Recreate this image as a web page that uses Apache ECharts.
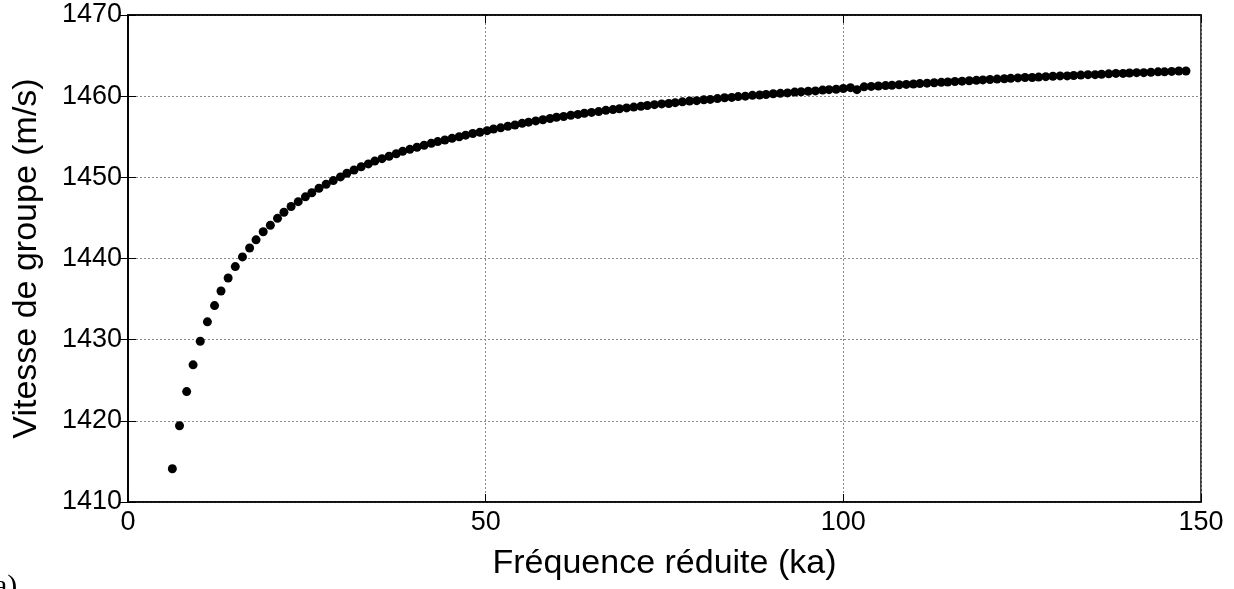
<!DOCTYPE html>
<html>
<head>
<meta charset="utf-8">
<title>Vitesse de groupe</title>
<script src="https://cdn.jsdelivr.net/npm/echarts@6/dist/echarts.min.js"></script>
<style>
html, body { margin: 0; padding: 0; background: #fff; }
#chart { width: 1234px; height: 589px; }
</style>
</head>
<body>
<div id="chart"></div>
<script>
// fréquence réduite (ka)
var kaValues = [
	6.2, 7.2, 8.2, 9.1, 10.1, 11.1, 12.1, 13.0, 14.0, 15.0,
	16.0, 17.0, 17.9, 18.9, 19.9, 20.9, 21.8, 22.8, 23.8, 24.8,
	25.7, 26.7, 27.7, 28.7, 29.7, 30.6, 31.6, 32.6, 33.6, 34.5,
	35.5, 36.5, 37.5, 38.4, 39.4, 40.4, 41.4, 42.4, 43.3, 44.3,
	45.3, 46.3, 47.2, 48.2, 49.2, 50.2, 51.1, 52.1, 53.1, 54.1,
	55.1, 56.0, 57.0, 58.0, 59.0, 59.9, 60.9, 61.9, 62.9, 63.8,
	64.8, 65.8, 66.8, 67.8, 68.7, 69.7, 70.7, 71.7, 72.6, 73.6,
	74.6, 75.6, 76.5, 77.5, 78.5, 79.5, 80.5, 81.4, 82.4, 83.4,
	84.4, 85.3, 86.3, 87.3, 88.3, 89.2, 90.2, 91.2, 92.2, 93.2,
	94.1, 95.1, 96.1, 97.1, 98.0, 99.0, 100.0, 101.0, 101.9, 102.9,
	103.9, 104.9, 105.9, 106.8, 107.8, 108.8, 109.8, 110.7, 111.7, 112.7,
	113.7, 114.6, 115.6, 116.6, 117.6, 118.6, 119.5, 120.5, 121.5, 122.5,
	123.4, 124.4, 125.4, 126.4, 127.3, 128.3, 129.3, 130.3, 131.3, 132.2,
	133.2, 134.2, 135.2, 136.1, 137.1, 138.1, 139.1, 140.0, 141.0, 142.0,
	143.0, 144.0, 144.9, 145.9, 146.9, 147.9
];
// vitesse de groupe (m/s)
var vitesse = [
	1414.1, 1419.4, 1423.6, 1426.9, 1429.8, 1432.2, 1434.2, 1436.0, 1437.6, 1439.0,
	1440.2, 1441.3, 1442.3, 1443.3, 1444.1, 1444.95, 1445.7, 1446.4, 1447.0, 1447.6,
	1448.1, 1448.65, 1449.15, 1449.6, 1450.05, 1450.5, 1450.9, 1451.3, 1451.65, 1452.0,
	1452.3, 1452.6, 1452.9, 1453.2, 1453.45, 1453.7, 1453.95, 1454.2, 1454.4, 1454.6,
	1454.8, 1455.0, 1455.2, 1455.4, 1455.55, 1455.75, 1455.95, 1456.1, 1456.3, 1456.45,
	1456.65, 1456.8, 1456.95, 1457.1, 1457.25, 1457.4, 1457.5, 1457.65, 1457.75, 1457.9,
	1458.0, 1458.1, 1458.25, 1458.35, 1458.45, 1458.55, 1458.65, 1458.75, 1458.85, 1458.95,
	1459.05, 1459.1, 1459.2, 1459.3, 1459.4, 1459.45, 1459.55, 1459.6, 1459.7, 1459.8,
	1459.85, 1459.95, 1460.0, 1460.1, 1460.15, 1460.2, 1460.3, 1460.35, 1460.4, 1460.5,
	1460.55, 1460.6, 1460.65, 1460.75, 1460.8, 1460.85, 1460.95, 1461.05, 1460.8, 1461.15,
	1461.2, 1461.25, 1461.3, 1461.35, 1461.4, 1461.45, 1461.5, 1461.55, 1461.6, 1461.65,
	1461.7, 1461.75, 1461.8, 1461.85, 1461.9, 1461.95, 1462.0, 1462.05, 1462.1, 1462.15,
	1462.2, 1462.25, 1462.3, 1462.3, 1462.35, 1462.4, 1462.45, 1462.5, 1462.5, 1462.55,
	1462.6, 1462.65, 1462.65, 1462.7, 1462.75, 1462.8, 1462.8, 1462.85, 1462.9, 1462.9,
	1462.95, 1463.0, 1463.0, 1463.05, 1463.1, 1463.1
];
var xTicks = [0, 50, 100, 150];
var yTicks = [1410, 1420, 1430, 1440, 1450, 1460, 1470];

var points = [];
for (var i = 0; i < kaValues.length; i++) {
	points.push([kaValues[i], vitesse[i]]);
}

var font = '"Liberation Sans", Arial, sans-serif';
var titleStyle = { color: '#000', fontSize: 34, fontFamily: font };
var gridLine = { show: true, lineStyle: { color: '#8a8a8a', type: [2, 2], width: 1 } };
var blackLine = { show: true, lineStyle: { color: '#000', width: 1.5 } };
var innerTick = { show: true, inside: true, length: 8, lineStyle: { color: '#000' } };

var chart = echarts.init(document.getElementById('chart'));
var option = {
	animation: false,
	backgroundColor: '#fff',
	grid: {
		left: 128, right: 33, top: 15, bottom: 87,
		show: true, borderColor: '#000', borderWidth: 1.5
	},
	xAxis: [{
		type: 'value',
		min: xTicks[0], max: xTicks[xTicks.length - 1], interval: 50,
		name: 'Fréquence réduite (ka)',
		nameLocation: 'middle', nameGap: 45,
		nameTextStyle: titleStyle,
		axisLine: blackLine,
		axisTick: innerTick,
		axisLabel: { color: '#000', fontSize: 27, fontFamily: font, margin: 7 },
		splitLine: gridLine
	}, {
		type: 'value', position: 'top',
		min: xTicks[0], max: xTicks[xTicks.length - 1], interval: 50,
		axisLine: blackLine,
		axisTick: innerTick,
		axisLabel: { show: false },
		splitLine: { show: false }
	}],
	yAxis: [{
		type: 'value',
		min: yTicks[0], max: yTicks[yTicks.length - 1], interval: 10,
		name: 'Vitesse de groupe (m/s)',
		nameLocation: 'middle', nameGap: 84,
		nameTextStyle: titleStyle,
		axisLine: blackLine,
		axisTick: innerTick,
		axisLabel: {
			color: '#000', fontSize: 27, fontFamily: font, margin: 6,
			formatter: function (v) { return String(v); }
		},
		splitLine: gridLine
	}, {
		type: 'value', position: 'right',
		min: yTicks[0], max: yTicks[yTicks.length - 1], interval: 10,
		axisLine: blackLine,
		axisTick: innerTick,
		axisLabel: { show: false },
		splitLine: { show: false }
	}],
	graphic: [{
		type: 'text', left: -6, top: 572,
		style: { text: 'a)', fontSize: 30, fontFamily: '"Liberation Serif", serif', fill: '#000' }
	}],
	series: [{
		type: 'scatter',
		data: points,
		symbol: 'circle',
		symbolSize: 9,
		itemStyle: { color: '#000', opacity: 1 }
	}]
};
chart.setOption(option);
</script>
</body>
</html>
